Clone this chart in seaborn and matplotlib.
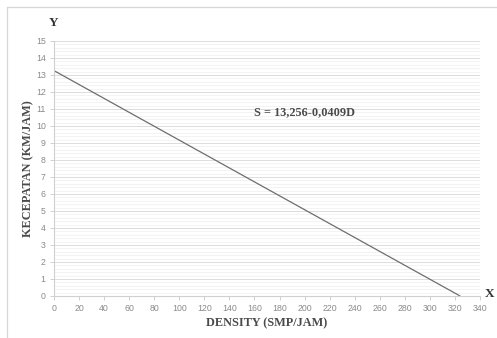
import numpy as np
import pandas as pd
import matplotlib
matplotlib.use("Agg")
import matplotlib.pyplot as plt
import seaborn as sns
from matplotlib.ticker import MultipleLocator

# Greenshields speed-density relation: S = 13,256 - 0,0409 D
intercept = 13.256
slope = 0.0409
density = [0.0, 324.1]
speed = [13.256, 0.0]

x_ticks = list(range(0, 341, 20))
y_ticks = list(range(0, 16, 1))
equation_label = "S = 13,256-0,0409D"

sns.set_theme(style="white")
plt.rcParams["font.family"] = ["Liberation Serif", "DejaVu Serif"]

df = pd.DataFrame({"DENSITY": density, "SPEED": speed})

fig = plt.figure(figsize=(4.97, 3.38), dpi=100)
ax = fig.add_axes([0.1087, 0.1243, 0.8571, 0.7544])

sns.lineplot(data=df, x="DENSITY", y="SPEED", ax=ax, color="#6e6e6e", linewidth=0.9)

ax.set_xlim(0, 340)
ax.set_ylim(0, 15)
ax.set_xticks(x_ticks)
ax.set_yticks(y_ticks)
ax.yaxis.set_minor_locator(MultipleLocator(0.2))

ax.grid(which="major", axis="y", color="#dcdcdc", linewidth=0.7)
ax.grid(which="minor", axis="y", color="#f1f1f1", linewidth=0.6)
ax.grid(which="major", axis="x", visible=False)
ax.set_axisbelow(True)

for side in ["top", "right"]:
    ax.spines[side].set_visible(False)
for side in ["left", "bottom"]:
    ax.spines[side].set_color("#d0d0d0")
    ax.spines[side].set_linewidth(0.8)

ax.tick_params(axis="both", which="major", labelsize=6.3, labelcolor="#8a8a8a",
               color="#d0d0d0", length=3, width=0.7, direction="out", pad=3,
               bottom=True, left=True)
ax.tick_params(axis="both", which="minor", length=0)
for lbl in ax.get_xticklabels() + ax.get_yticklabels():
    lbl.set_family(["Liberation Sans", "DejaVu Sans"])

ax.set_xlabel("DENSITY (SMP/JAM)", fontsize=8.8, fontweight="bold", color="#4a4a4a", labelpad=3)
ax.set_ylabel("KECEPATAN (KM/JAM)", fontsize=8.8, fontweight="bold", color="#4a4a4a", labelpad=1)

ax.text(200, 10.8, equation_label, fontsize=8.8, fontweight="bold", color="#4a4a4a",
        ha="center", va="center")

fig.text(53 / 497, 1 - 23 / 338, "Y", fontsize=9.5, fontweight="bold", color="#333333",
         ha="center", va="center")
fig.text(490 / 497, 1 - 294 / 338, "X", fontsize=9.5, fontweight="bold", color="#333333",
         ha="center", va="center")

# outer chart frame
fig.add_artist(plt.Line2D([7 / 497, 7 / 497], [0, 1 - 7 / 338], color="#d6d6d6",
                          linewidth=0.9, transform=fig.transFigure))
fig.add_artist(plt.Line2D([7 / 497, 1], [1 - 7 / 338, 1 - 7 / 338], color="#d6d6d6",
                          linewidth=0.9, transform=fig.transFigure))

fig.savefig("out.png", dpi=100, facecolor="white")
